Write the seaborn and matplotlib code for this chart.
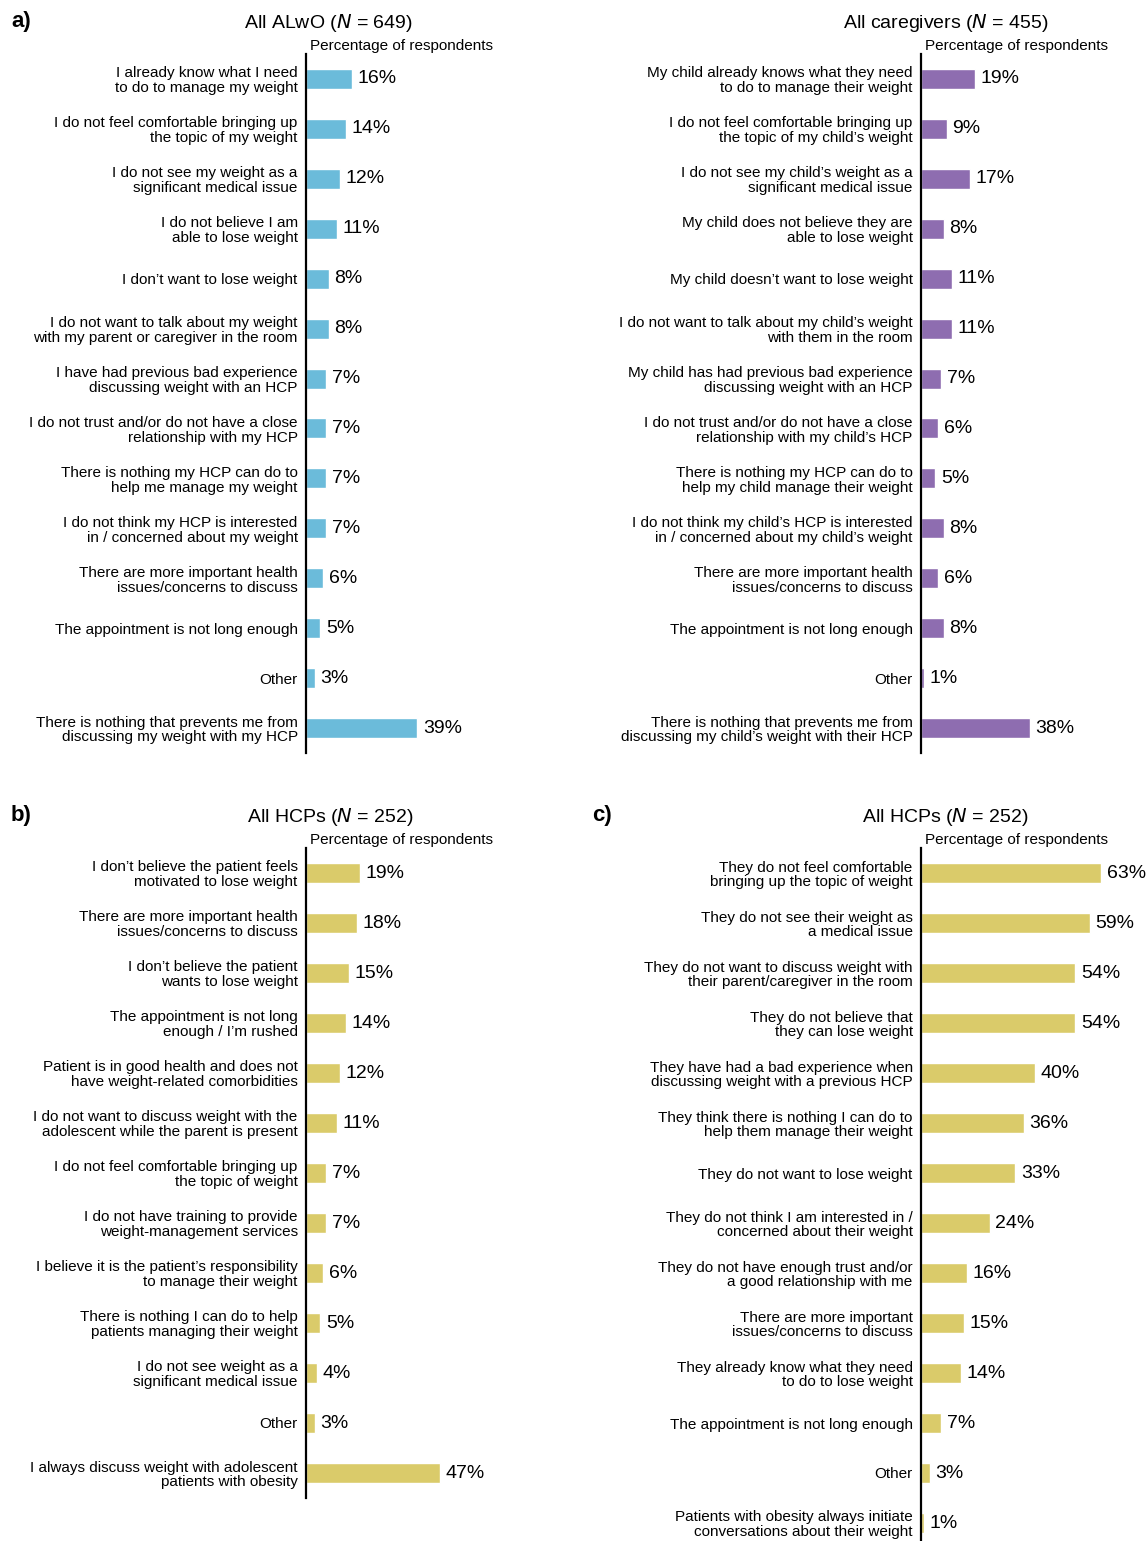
import matplotlib
matplotlib.use("Agg")
import matplotlib.pyplot as plt
import seaborn as sns
import pandas as pd

sns.set_style("white")
plt.rcParams['font.family'] = ['Liberation Sans', 'DejaVu Sans']
plt.rcParams['text.color'] = 'black'
plt.rcParams['ytick.color'] = 'black'
plt.rcParams['xtick.color'] = 'black'
plt.rcParams['axes.labelcolor'] = 'black'

# panel a, left: adolescents living with obesity
alwo_labels = [
    "I already know what I need\nto do to manage my weight",
    "I do not feel comfortable bringing up\nthe topic of my weight",
    "I do not see my weight as a\nsignificant medical issue",
    "I do not believe I am\nable to lose weight",
    "I don’t want to lose weight",
    "I do not want to talk about my weight\nwith my parent or caregiver in the room",
    "I have had previous bad experience\ndiscussing weight with an HCP",
    "I do not trust and/or do not have a close\nrelationship with my HCP",
    "There is nothing my HCP can do to\nhelp me manage my weight",
    "I do not think my HCP is interested\nin / concerned about my weight",
    "There are more important health\nissues/concerns to discuss",
    "The appointment is not long enough",
    "Other",
    "There is nothing that prevents me from\ndiscussing my weight with my HCP",
]
alwo_values = [16, 14, 12, 11, 8, 8, 7, 7, 7, 7, 6, 5, 3, 39]

# panel a, right: caregivers
care_labels = [
    "My child already knows what they need\nto do to manage their weight",
    "I do not feel comfortable bringing up\nthe topic of my child’s weight",
    "I do not see my child’s weight as a\nsignificant medical issue",
    "My child does not believe they are\nable to lose weight",
    "My child doesn’t want to lose weight",
    "I do not want to talk about my child’s weight\nwith them in the room",
    "My child has had previous bad experience\ndiscussing weight with an HCP",
    "I do not trust and/or do not have a close\nrelationship with my child’s HCP",
    "There is nothing my HCP can do to\nhelp my child manage their weight",
    "I do not think my child’s HCP is interested\nin / concerned about my child’s weight",
    "There are more important health\nissues/concerns to discuss",
    "The appointment is not long enough",
    "Other",
    "There is nothing that prevents me from\ndiscussing my child’s weight with their HCP",
]
care_values = [19, 9, 17, 8, 11, 11, 7, 6, 5, 8, 6, 8, 1, 38]

# panel b: HCPs, own reasons
hcp_b_labels = [
    "I don’t believe the patient feels\nmotivated to lose weight",
    "There are more important health\nissues/concerns to discuss",
    "I don’t believe the patient\nwants to lose weight",
    "The appointment is not long\nenough / I’m rushed",
    "Patient is in good health and does not\nhave weight-related comorbidities",
    "I do not want to discuss weight with the\nadolescent while the parent is present",
    "I do not feel comfortable bringing up\nthe topic of weight",
    "I do not have training to provide\nweight-management services",
    "I believe it is the patient’s responsibility\nto manage their weight",
    "There is nothing I can do to help\npatients managing their weight",
    "I do not see weight as a\nsignificant medical issue",
    "Other",
    "I always discuss weight with adolescent\npatients with obesity",
]
hcp_b_values = [19, 18, 15, 14, 12, 11, 7, 7, 6, 5, 4, 3, 47]

# panel c: HCPs, perceived patient reasons
hcp_c_labels = [
    "They do not feel comfortable\nbringing up the topic of weight",
    "They do not see their weight as\na medical issue",
    "They do not want to discuss weight with\ntheir parent/caregiver in the room",
    "They do not believe that\nthey can lose weight",
    "They have had a bad experience when\ndiscussing weight with a previous HCP",
    "They think there is nothing I can do to\nhelp them manage their weight",
    "They do not want to lose weight",
    "They do not think I am interested in /\nconcerned about their weight",
    "They do not have enough trust and/or\na good relationship with me",
    "There are more important\nissues/concerns to discuss",
    "They already know what they need\nto do to lose weight",
    "The appointment is not long enough",
    "Other",
    "Patients with obesity always initiate\nconversations about their weight",
]
hcp_c_values = [63, 59, 54, 54, 40, 36, 33, 24, 16, 15, 14, 7, 3, 1]

BLUE = "#6BBBDA"
PURPLE = "#8E6DB0"
YELLOW = "#DACB6A"

W, H = 1148, 1541
fig = plt.figure(figsize=(W / 100, H / 100), dpi=100)


def panel(rect, labels, values, color):
    ax = fig.add_axes(rect)
    df = pd.DataFrame({"label": labels, "value": values})
    sns.barplot(data=df, y="label", x="value", order=labels, color=color,
                width=0.4, orient="h", ax=ax, saturation=1)
    ax.set_xlim(0, 70)
    ax.set_xlabel("")
    ax.set_ylabel("")
    ax.set_xticks([])
    for s in ["top", "right", "bottom"]:
        ax.spines[s].set_visible(False)
    ax.spines["left"].set_color("black")
    ax.spines["left"].set_linewidth(1.6)
    ax.tick_params(axis="y", length=0, pad=6, labelsize=11)
    for t in ax.get_yticklabels():
        t.set_linespacing(1.08)
    ax.bar_label(ax.containers[0], labels=[f"{v}%" for v in values],
                 padding=4, fontsize=14, clip_on=False)
    ax.patch.set_alpha(0)
    return ax


def px(x0, ytop, ybot):
    return [x0 / W, 1 - ybot / H, 200 / W, (ybot - ytop) / H]


panel(px(306, 54, 753), alwo_labels, alwo_values, BLUE)
panel(px(921, 54, 753), care_labels, care_values, PURPLE)
panel(px(306, 848, 1498), hcp_b_labels, hcp_b_values, YELLOW)
panel(px(921, 848, 1548), hcp_c_labels, hcp_c_values, YELLOW)

# headers
titles = [
    (328, 23, "All ALwO ($\\it{N}$ = 649)"),
    (946, 23, "All caregivers ($\\it{N}$ = 455)"),
    (330, 817, "All HCPs ($\\it{N}$ = 252)"),
    (945, 817, "All HCPs ($\\it{N}$ = 252)"),
]
for x, y, t in titles:
    fig.text(x / W, 1 - y / H, t, ha="center", va="center", fontsize=14)

for x, y in [(310, 46), (925, 46), (310, 840), (925, 840)]:
    fig.text(x / W, 1 - y / H, "Percentage of respondents",
             ha="left", va="center", fontsize=11)

for x, y, t in [(11, 22, "a)"), (11, 815, "b)"), (592, 815, "c)")]:
    fig.text(x / W, 1 - y / H, t, ha="left", va="center",
             fontsize=16, fontweight="bold")

fig.savefig("out.png", dpi=100)
